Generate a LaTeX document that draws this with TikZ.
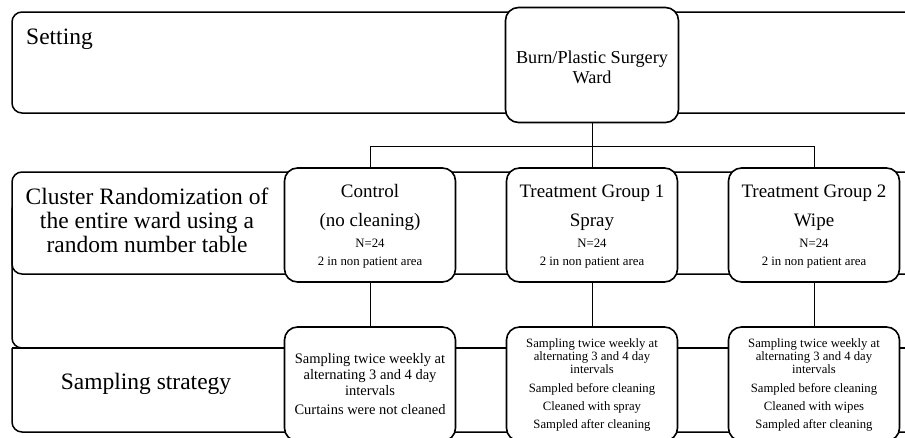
\documentclass[tikz,border=0pt]{standalone}
\usepackage{fontspec}
\setmainfont{Liberation Serif}
\newcommand{\fBand}{\fontsize{23.5}{28}\selectfont}
\newcommand{\fGrp}{\fontsize{19}{22}\selectfont}
\newcommand{\fBurn}{\fontsize{18.2}{21}\selectfont}
\newcommand{\fNote}{\fontsize{12.8}{15}\selectfont}
\newcommand{\fSampC}{\fontsize{14.5}{17}\selectfont}
\newcommand{\fSampT}{\fontsize{12.7}{15}\selectfont}
\begin{document}
\begin{tikzpicture}[x=1pt,y=-1pt,
  band/.style={draw, line width=1.5pt, rounded corners=10pt, fill=white},
  box/.style={draw, line width=1.6pt, rounded corners=13pt, fill=white, inner sep=0pt,
    minimum width=171pt, minimum height=114pt},
  link/.style={draw, line width=0.8pt},
  lbl/.style={anchor=base, inner sep=0pt}]
\useasboundingbox (0,0) rectangle (905,437);
\clip (0,0) rectangle (905,437);
% bands
\draw[band] (12,12) rectangle (930,113);
\draw[band] (12,200) rectangle (930,348);
\draw[band] (12,172) rectangle (930,274);
\draw[line width=1.5pt] (12,348) -- (930,348);
\draw[line width=1.5pt, rounded corners=10pt] (12,348) -- (12,432) -- (930,432);
% band labels
\node[lbl, anchor=base west, font=\fBand] (tset) at (26,44) {Setting};
\node[lbl, font=\fBand] (tcl1) at (147,204) {Cluster Randomization of};
\node[lbl, font=\fBand] (tcl2) at (147,228) {the entire ward using a};
\node[lbl, font=\fBand] (tcl3) at (147,252) {random number table};
\node[lbl, font=\fBand] (tss) at (146,389) {Sampling strategy};
% boxes
\node[box, minimum width=173pt, minimum height=115pt] (burn) at (592,65) {};
\node[box] (ctrl) at (370,225) {};
\node[box] (tga) at (592,225) {};
\node[box] (tgb) at (814,225) {};
\node[box] (ctrlS) at (370,384) {};
\node[box] (tgaS) at (592,384) {};
\node[box] (tgbS) at (814,384) {};
% burn text
\node[lbl, font=\fBurn] (b1) at (592,63) {Burn/Plastic Surgery};
\node[lbl, font=\fBurn] (b2) at (592,83) {Ward};
% group texts
\node[lbl, font=\fGrp] (c1) at (370,197) {Control};
\node[lbl, font=\fGrp] (c2) at (370,226) {(no cleaning)};
\node[lbl, font=\fNote] (c3) at (370,247) {N=24};
\node[lbl, font=\fNote] (c4) at (370,265) {2 in non patient area};
\node[lbl, font=\fGrp] (a1) at (592,197) {Treatment Group 1};
\node[lbl, font=\fGrp] (a2) at (592,226) {Spray};
\node[lbl, font=\fNote] (a3) at (592,247) {N=24};
\node[lbl, font=\fNote] (a4) at (592,265) {2 in non patient area};
\node[lbl, font=\fGrp] (w1) at (814,197) {Treatment Group 2};
\node[lbl, font=\fGrp] (w2) at (814,226) {Wipe};
\node[lbl, font=\fNote] (w3) at (814,247) {N=24};
\node[lbl, font=\fNote] (w4) at (814,265) {2 in non patient area};
% sampling texts
\node[lbl, font=\fSampC] (cs1) at (370,363) {Sampling twice weekly at};
\node[lbl, font=\fSampC] (cs2) at (370,379) {alternating 3 and 4 day};
\node[lbl, font=\fSampC] (cs3) at (370,395) {intervals};
\node[lbl, font=\fSampC] (cs4) at (370,414) {Curtains were not cleaned};
\foreach \cx/\nm/\how in {592/as/spray, 814/ws/wipes}{
  \node[lbl, font=\fSampT] (\nm1) at (\cx,347) {Sampling twice weekly at};
  \node[lbl, font=\fSampT] (\nm2) at (\cx,360) {alternating 3 and 4 day};
  \node[lbl, font=\fSampT] (\nm3) at (\cx,373) {intervals};
  \node[lbl, font=\fSampT] (\nm4) at (\cx,392) {Sampled before cleaning};
  \node[lbl, font=\fSampT] (\nm5) at (\cx,410) {Cleaned with \how};
  \node[lbl, font=\fSampT] (\nm6) at (\cx,428) {Sampled after cleaning};
}
% connectors
\draw[link] (burn.south) -- ++(0,23) coordinate (j);
\draw[link] (ctrl.north) |- (j) -| (tgb.north);
\draw[link] (j) -- (tga.north);
\draw[link] (ctrl.south) -- (ctrlS.north);
\draw[link] (tga.south) -- (tgaS.north);
\draw[link] (tgb.south) -- (tgbS.north);
\end{tikzpicture}
\end{document}
